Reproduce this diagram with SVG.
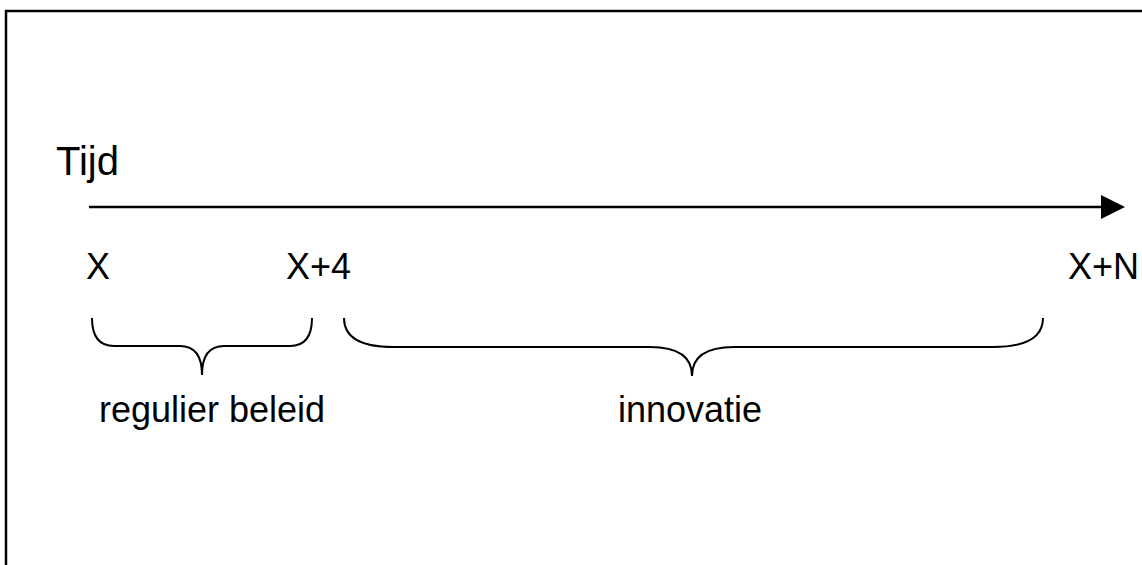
<svg xmlns="http://www.w3.org/2000/svg" width="1142" height="565" viewBox="0 0 1142 565">
  <style>
    .lbl { font-family: "Liberation Sans", Arial, sans-serif; font-size: 36px; fill: #000; }
    .title { font-size: 40px; }
    .brace { fill: none; stroke: #000; stroke-width: 2; }
    .axis { stroke: #000; stroke-width: 2.5; }
  </style>
  <rect width="1142" height="565" fill="#fff"/>
  <!-- frame, open to the right and bottom -->
  <path d="M6,570 V11 H1150" fill="none" stroke="#000" stroke-width="2.5"/>

  <g id="title">
    <text class="lbl title" x="56" y="175">Tijd</text>
  </g>

  <g id="connectors">
    <line class="axis" x1="89" y1="207" x2="1103" y2="207"/>
    <polygon points="1101,195 1125,207 1101,219" fill="#000"/>
  </g>

  <g id="tick-x">
    <text class="lbl" x="86" y="279">X</text>
  </g>
  <g id="tick-x4">
    <text class="lbl" x="286" y="279">X+4</text>
  </g>
  <g id="tick-xn">
    <text class="lbl" x="1068" y="279">X+N</text>
  </g>

  <g id="regulier-beleid">
    <path class="brace" d="M92,318 Q92,346 114,346 H180 Q202,346 202,375 Q202,346 224,346 H290 Q312,346 312,318"/>
    <text class="lbl" x="99" y="422">regulier beleid</text>
  </g>

  <g id="innovatie">
    <path class="brace" d="M344,318 Q344,347 393,347 H650 Q692,347 692,376 Q692,347 734,347 H993 Q1043,347 1043,318"/>
    <text class="lbl" x="618" y="422">innovatie</text>
  </g>
</svg>
